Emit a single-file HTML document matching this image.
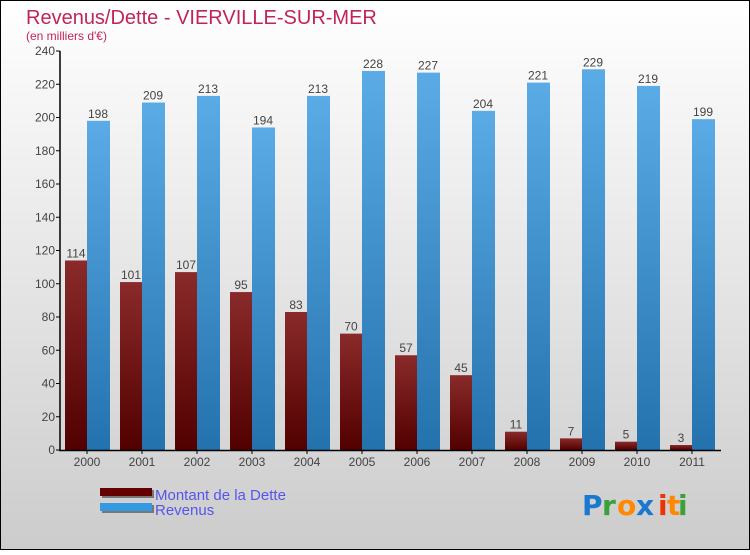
<!DOCTYPE html>
<html><head><meta charset="utf-8"><style>
body{margin:0}
#c{width:750px;height:550px;position:relative;font-family:"Liberation Sans",sans-serif}
</style></head><body>
<div id="c">
<svg width="750" height="550" xmlns="http://www.w3.org/2000/svg">
<defs>
<linearGradient id="bg" x1="0" y1="0" x2="0" y2="1"><stop offset="0" stop-color="#ffffff"/><stop offset="1" stop-color="#cccccc"/></linearGradient>
<linearGradient id="gd" x1="0" y1="0" x2="0" y2="1"><stop offset="0" stop-color="#8a2a2a"/><stop offset="1" stop-color="#520000"/></linearGradient>
<linearGradient id="gr" x1="0" y1="0" x2="0" y2="1"><stop offset="0" stop-color="#5aabe6"/><stop offset="1" stop-color="#2472ad"/></linearGradient>
</defs>
<rect x="0.5" y="0.5" width="749" height="549" fill="url(#bg)" stroke="#000"/>
<text x="26" y="24" font-size="20" fill="#c0245a">Revenus/Dette - VIERVILLE-SUR-MER</text>
<text x="26" y="40" font-size="12" fill="#c0245a">(en milliers d'€)</text>
<g id="plot"></g>
<g>
<rect x="102" y="490" width="52" height="8" fill="#777"/>
<rect x="100" y="488" width="52" height="8" fill="#650000"/>
<rect x="102" y="505" width="52" height="8" fill="#777"/>
<rect x="100" y="503" width="52" height="8" fill="#3399e0"/>
<text x="155" y="500" font-size="15" fill="#5555ee">Montant de la Dette</text>
<text x="155" y="515" font-size="15" fill="#5555ee">Revenus</text>
</g>
<g font-size="28" font-family="'DejaVu Sans',sans-serif" font-weight="bold">
<text x="582" y="515" fill="#1a78d0">P</text><text x="602" y="515" fill="#3aa03a">r</text><text x="617" y="515" fill="#ff8800">o</text><text x="636" y="515" fill="#1a78d0">x</text><text x="658" y="515" fill="#ee3300">i</text><text x="667" y="515" fill="#ff8800">t</text><text x="678" y="515" fill="#3aa03a">i</text>
</g>
</svg>
</div>
<script>
const years=["2000","2001","2002","2003","2004","2005","2006","2007","2008","2009","2010","2011"];
const dette=[114,101,107,95,83,70,57,45,11,7,5,3];
const revenus=[198,209,213,194,213,228,227,204,221,229,219,199];
const yTicks=[0,20,40,60,80,100,120,140,160,180,200,220,240];
const NS="http://www.w3.org/2000/svg";
const g=document.getElementById('plot');
const y0=450,yTop=51,yMax=240,x0=87,step=55,bw=22;
const Y=v=>y0-(v/yMax)*(y0-yTop);
const X=i=>x0+i*step;
function mk(t,a){const e=document.createElementNS(NS,t);for(const k in a)e.setAttribute(k,a[k]);g.appendChild(e);return e;}
yTicks.forEach(v=>{
 const l=mk('line',{x1:56,x2:60,y1:Y(v),y2:Y(v),stroke:'#000'});
 
 
 const t=mk('text',{x:55,y:Y(v)+4,'text-anchor':'end','font-size':12,fill:'#444'});
 t.textContent=v;
 
 
});
years.forEach((yr,i)=>{
 const cx=X(i);
 const b1=mk('rect',{x:cx-bw,y:Y(dette[i]),width:bw,height:y0-Y(dette[i]),fill:'url(#gd)'});
 
 
 const b2=mk('rect',{x:cx,y:Y(revenus[i]),width:bw+1,height:y0-Y(revenus[i]),fill:'url(#gr)'});
 
 
 const t1=mk('text',{x:cx-bw/2,y:Y(dette[i])-3,'text-anchor':'middle','font-size':12,fill:'#444'});
 t1.textContent=dette[i];
 
 
 const t2=mk('text',{x:cx+bw/2,y:Y(revenus[i])-3,'text-anchor':'middle','font-size':12,fill:'#444'});
 t2.textContent=revenus[i];
 
 
 const tk=mk('line',{x1:cx,x2:cx,y1:y0,y2:y0+4,stroke:'#000'});
 
 
 const tl=mk('text',{x:cx,y:y0+16,'text-anchor':'middle','font-size':12,fill:'#444'});
 tl.textContent=yr;
 
 
});
const ya=mk('line',{x1:60,x2:60,y1:yTop,y2:y0+1,stroke:'#000','stroke-width':1.5});


const xa=mk('line',{x1:59,x2:721,y1:y0+0.5,y2:y0+0.5,stroke:'#000','stroke-width':1.5});


</script>
</body></html>
